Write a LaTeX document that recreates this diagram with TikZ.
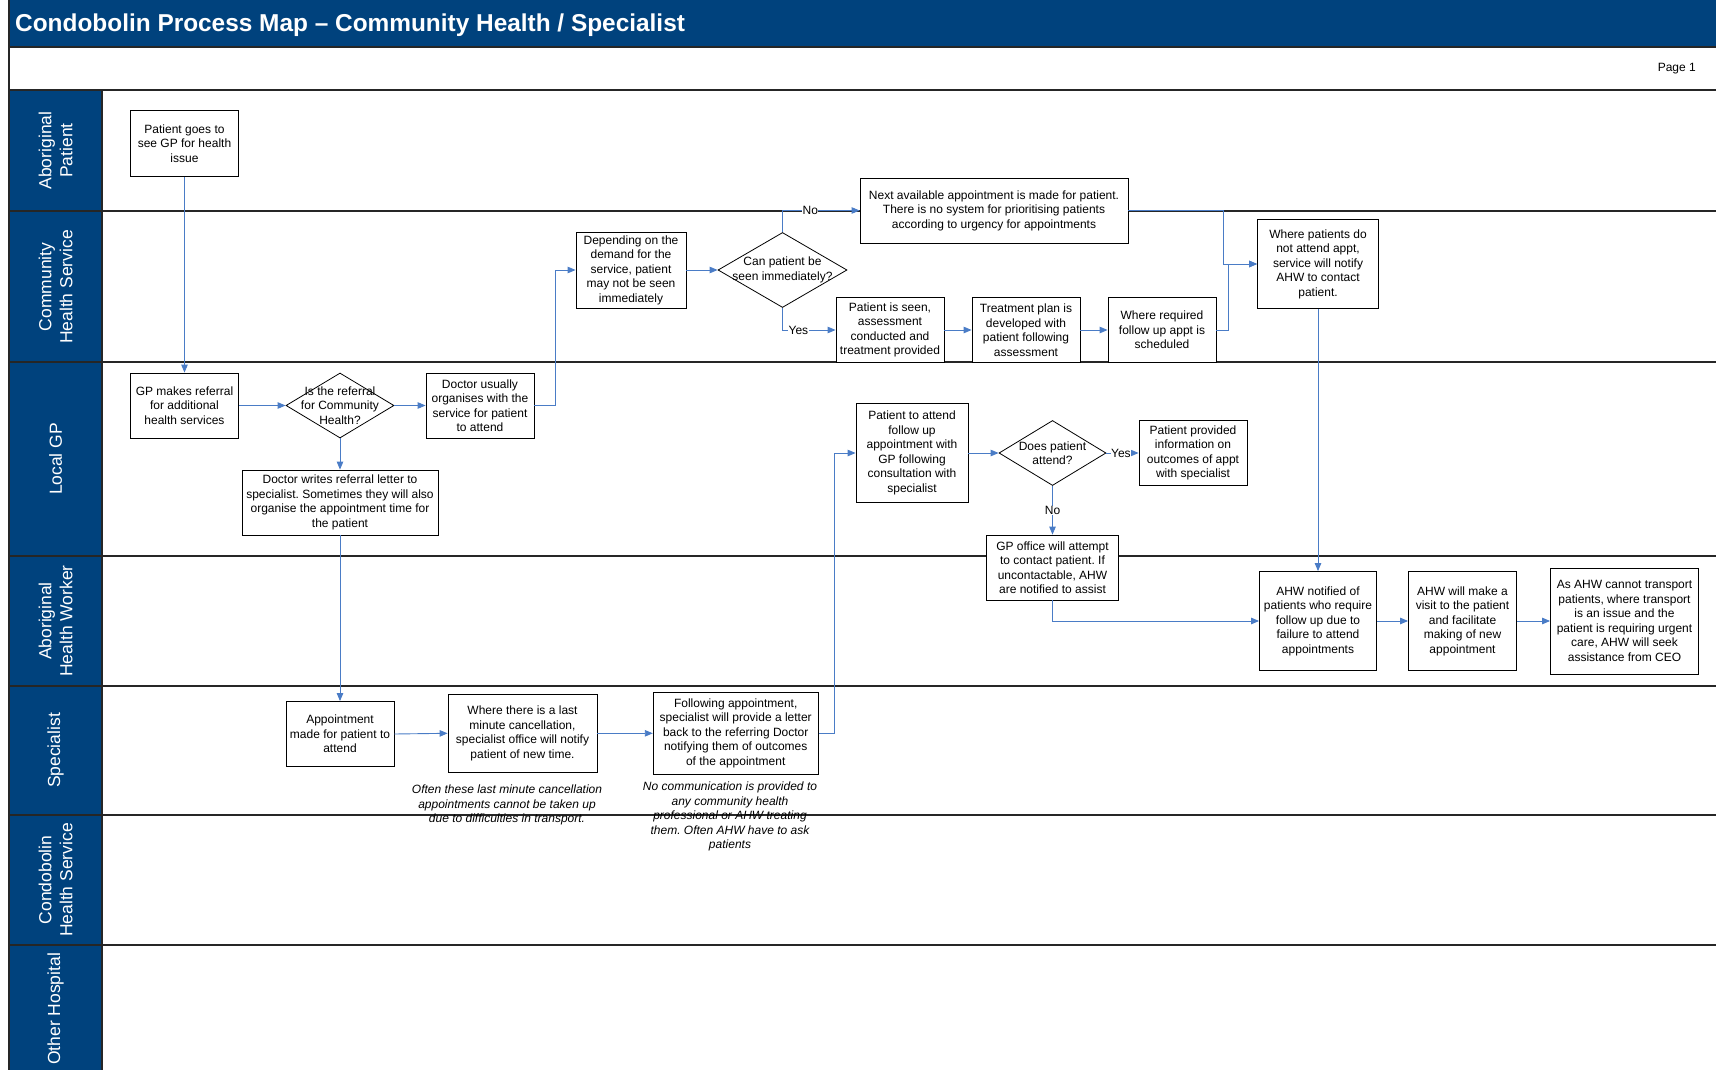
\documentclass[tikz,border=0pt]{standalone}
\usepackage{fontspec}
\setmainfont{Liberation Sans}
\usetikzlibrary{arrows.meta,shapes.geometric,calc}
\definecolor{laneblue}{HTML}{00427D}
\definecolor{linkblue}{HTML}{4A7CC6}
\frenchspacing
\begin{document}
\begin{tikzpicture}[x=1pt,y=-1pt,
  box/.style={draw=black, line width=0.8pt, fill=white, align=center, inner sep=1pt,
              font=\fontsize{12}{14.5}\selectfont},
  decision/.style={draw=black, line width=0.8pt, fill=white, shape=diamond, inner sep=0pt},
  dtext/.style={align=center, inner sep=0pt, font=\fontsize{12}{14.5}\selectfont},
  note/.style={align=center, inner sep=0pt, font=\fontsize{12}{14.5}\selectfont\itshape},
  lanelbl/.style={rotate=90, align=center, text=white, inner sep=0pt,
              font=\fontsize{17.5}{21}\selectfont},
  lanesep/.style={line width=1.2pt, black!85},
  link/.style={draw=linkblue, line width=0.9pt, -{Triangle[length=8pt,width=6.5pt]}},
  lbl/.style={fill=white, inner sep=0.5pt, font=\fontsize{12}{14}\selectfont}]

\useasboundingbox (0,0) rectangle (1716,1070);

% title bar and page band
\fill[laneblue] (9,0) rectangle (1716,47);
\node[anchor=west, text=white, inner sep=0pt, font=\fontsize{24.4}{28}\selectfont\bfseries]
  (title) at (15,25.5) {Condobolin Process Map -- Community Health / Specialist};
\node[anchor=east, inner sep=0pt, font=\fontsize{12}{14}\selectfont] (page) at (1696,69) {Page 1};

% swimlane headers
\fill[laneblue] (9,90) rectangle (102,1070);
\foreach \yy in {47,90,211,362,556,686,815,945}
  \draw[lanesep] (9,\yy) -- (1716,\yy);
\draw[lanesep] (9,0) -- (9,1070);
\draw[lanesep] (102,90) -- (102,1070);

\node[lanelbl] (lnpat) at (55.5,150.5) {Aboriginal\\Patient};
\node[lanelbl] (lnchs) at (55.5,287) {Community\\Health Service};
\node[lanelbl] (lngp)  at (55.5,459) {Local GP};
\node[lanelbl] (lnahw) at (55.5,621) {Aboriginal\\Health Worker};
\node[lanelbl] (lnspc) at (55.5,750.5) {Specialist};
\node[lanelbl] (lncon) at (55.5,880) {Condobolin\\Health Service};
\node[lanelbl] (lnoth) at (55.5,1009) {Other Hospital};

% process steps
\node[box, minimum width=108pt, minimum height=66pt] (n1) at (184.5,143.5)
  {Patient goes to\\see GP for health\\issue};
\node[box, minimum width=108pt, minimum height=65pt] (n2) at (184.5,405.5)
  {GP makes referral\\for additional\\health services};
\node[decision, minimum width=108pt, minimum height=65pt] (d1) at (340,405.5) {};
\node[dtext] (d1t) at (340,405.5) {Is the referral\\for Community\\Health?};
\node[box, minimum width=108pt, minimum height=65pt] (n3) at (480,405.5)
  {Doctor usually\\organises with the\\service for patient\\to attend};
\node[box, minimum width=196pt, minimum height=65pt] (n4) at (340,502.5)
  {Doctor writes referral letter to\\specialist. Sometimes they will also\\organise the appointment time for\\the patient};

\node[box, minimum width=110pt, minimum height=76pt] (n5) at (631,270)
  {Depending on the\\demand for the\\service, patient\\may not be seen\\immediately};
\node[decision, minimum width=129pt, minimum height=75pt] (d2) at (782.5,270) {};
\node[dtext] (d2t) at (782.5,270) {Can patient be\\seen immediately?};
\node[box, minimum width=268pt, minimum height=65pt] (n6) at (994,210.5)
  {Next available appointment is made for patient.\\There is no system for prioritising patients\\according to urgency for appointments};
\node[box, minimum width=108pt, minimum height=65pt] (n7) at (890,330)
  {Patient is seen,\\assessment\\conducted and\\treatment provided};
\node[box, minimum width=108pt, minimum height=65pt] (n8) at (1026,330)
  {Treatment plan is\\developed with\\patient following\\assessment};
\node[box, minimum width=108pt, minimum height=65pt] (n9) at (1162,330)
  {Where required\\follow up appt is\\scheduled};
\node[box, minimum width=121pt, minimum height=89pt] (n10) at (1318,264)
  {Where patients do\\not attend appt,\\service will notify\\AHW to contact\\patient.};

\node[box, minimum width=112pt, minimum height=99pt] (n14) at (912,453)
  {Patient to attend\\follow up\\appointment with\\GP following\\consultation with\\specialist};
\node[decision, minimum width=107pt, minimum height=65pt] (d3) at (1052.5,453) {};
\node[dtext] (d3t) at (1052.5,453) {Does patient\\attend?};
\node[box, minimum width=108pt, minimum height=65pt] (n15) at (1193,453)
  {Patient provided\\information on\\outcomes of appt\\with specialist};
\node[box, minimum width=132pt, minimum height=65pt] (n16) at (1052.5,567.5)
  {GP office will attempt\\to contact patient. If\\uncontactable, AHW\\are notified to assist};

\node[box, minimum width=117pt, minimum height=99pt] (n11) at (1318,621)
  {AHW notified of\\patients who require\\follow up due to\\failure to attend\\appointments};
\node[box, minimum width=108pt, minimum height=99pt] (n12) at (1462.5,621)
  {AHW will make a\\visit to the patient\\and facilitate\\making of new\\appointment};
\node[box, minimum width=148pt, minimum height=106pt] (n13) at (1624.5,621)
  {As AHW cannot transport\\patients, where transport\\is an issue and the\\patient is requiring urgent\\care, AHW will seek\\assistance from CEO};

\node[box, minimum width=108pt, minimum height=65pt] (n17) at (340,734)
  {Appointment\\made for patient to\\attend};
\node[box, minimum width=149pt, minimum height=78pt] (n18) at (522.5,733.3)
  {Where there is a last\\minute cancellation,\\specialist office will notify\\patient of new time.};
\node[box, minimum width=165pt, minimum height=82pt] (n19) at (735.7,733.3)
  {Following appointment,\\specialist will provide a letter\\back to the referring Doctor\\notifying them of outcomes\\of the appointment};

% remarks under the specialist steps
\node[note, anchor=north] (r1) at (507,785)
  {Often these last minute cancellation\\appointments cannot be taken up\\due to difficulties in transport.};
\node[note, anchor=north] (r2) at (730,782)
  {No communication is provided to\\any community health\\professional or AHW treating\\them. Often AHW have to ask\\patients};

% connectors
\draw[link] (n1.south) -- (n2.north);
\draw[link] (n2.east) -- (d1.west);
\draw[link] (d1.east) -- (n3.west);
\draw[link] (d1.south) -- (n4.north);
\draw[link] (n4.south) -- (n17.north);
\draw[link] (n3.east) -- ++(21,0) |- (n5.west);
\draw[link] (n5.east) -- (d2.west);
\draw[link] (d2.north) |- node[lbl, pos=0.68] {No} (n6.west);
\draw[link] (d2.south) |- node[lbl, pos=0.65] {Yes} (n7.west);
\draw[link] (n7.east) -- (n8.west);
\draw[link] (n8.east) -- (n9.west);
\coordinate (j1) at ($(n10.west)+(-34,0)$);
\coordinate (j2) at ($(n10.west)+(-28.5,0)$);
\draw[link] (n6.east) -| (j1) -- (n10.west);
\draw[link] (n9.east) -| (j2) -- (n10.west);
\draw[link] (n10.south) -- (n11.north);
\draw[link] (n11.east) -- (n12.west);
\draw[link] (n12.east) -- (n13.west);
\draw[link] (n17.east) -- (n18.west);
\draw[link] (n18.east) -- (n19.west);
\draw[link] (n19.east) -- ++(15.4,0) |- (n14.west);
\draw[link] (n14.east) -- (d3.west);
\draw[link] (d3.east) -- node[lbl, pos=0.45] {Yes} (n15.west);
\draw[link] (d3.south) -- node[lbl, pos=0.5] {No} (n16.north);
\draw[link] (n16.south) |- (n11.west);

\end{tikzpicture}
\end{document}
